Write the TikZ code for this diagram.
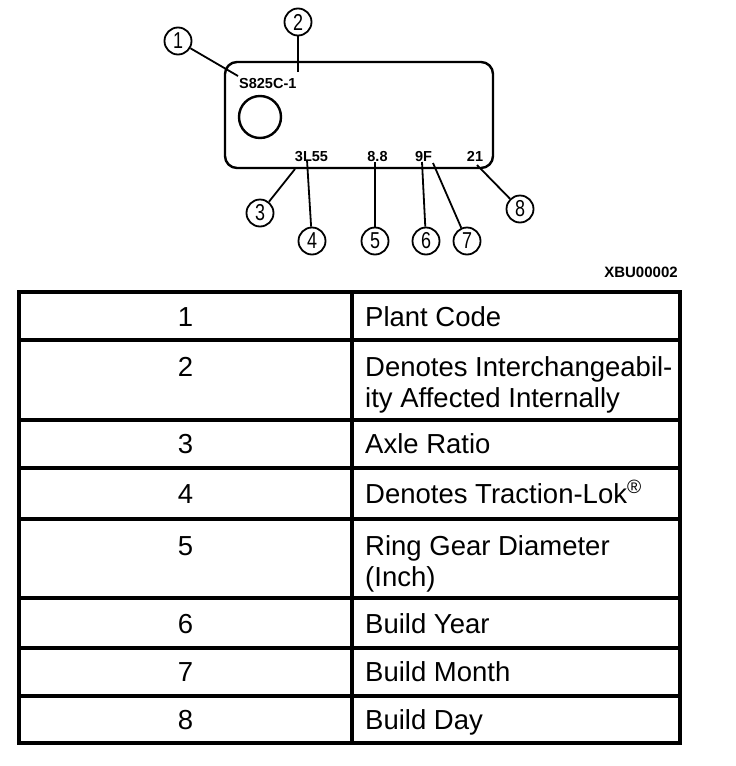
\documentclass[tikz,border=0pt]{standalone}
\usepackage{fontspec}
\setmainfont{Liberation Sans}
\newfontfamily\narrowsans[FakeStretch=0.78]{Liberation Sans}
\begin{document}
\begin{tikzpicture}[x=1pt,y=-1pt,
  plate/.style={draw=black,line width=2.4pt},
  platetext/.style={inner sep=0pt,font=\fontsize{14.5}{16}\selectfont\bfseries},
  callout/.style={circle,draw=black,line width=1.8pt,minimum size=27pt,inner sep=0pt,font=\narrowsans\fontsize{23}{24}\selectfont},
  leader/.style={draw=black,line width=1.8pt},
  tbl/.style={draw=black,line width=3.6pt},
  numtext/.style={inner sep=0pt,anchor=base,font=\fontsize{27.5}{31}\selectfont},
  desctext/.style={inner sep=0pt,anchor=base west,font=\fontsize{27.5}{31}\selectfont},
  desctwo/.style={inner sep=0pt,anchor=north west,align=left,font=\fontsize{27.5}{31}\selectfont}]
\useasboundingbox (0,0) rectangle (736,766);

% plate
\draw[plate,rounded corners=12pt] (225,62) rectangle (493,168);
\draw[plate] (260,117) circle (21pt);
\node[platetext,anchor=base west] (s1) at (239,88) {S825C-1};
\node[platetext,anchor=base] (s3) at (311.5,161) {3L55};
\node[platetext,anchor=base] (s5) at (377.5,161) {8.8};
\node[platetext,anchor=base] (s6) at (423.5,161) {9F};
\node[platetext,anchor=base] (s8) at (475,161) {21};

% callouts
\node[callout] (c1) at (178,41) {1};
\node[callout] (c2) at (298,22) {2};
\node[callout] (c3) at (260,213) {3};
\node[callout] (c4) at (312,241) {4};
\node[callout] (c5) at (375,241) {5};
\node[callout] (c6) at (426,241) {6};
\node[callout] (c7) at (467,241) {7};
\node[callout] (c8) at (520,209) {8};

\coordinate (p1) at (238,76);
\coordinate (p2) at (298,72);
\coordinate (p3) at (295,169);
\coordinate (p4) at (307,160);
\coordinate (p5) at (375,162);
\coordinate (p6) at (422,162);
\coordinate (p7) at (433,163);
\coordinate (p8) at (477,165);

\draw[leader] (p1) -- (c1);
\draw[leader] (p2) -- (c2);
\draw[leader] (p3) -- (c3);
\draw[leader] (p4) -- (c4);
\draw[leader] (p5) -- (c5);
\draw[leader] (p6) -- (c6);
\draw[leader] (p7) -- (c7);
\draw[leader] (p8) -- (c8);

\node[inner sep=0pt,font=\fontsize{15}{16}\selectfont\bfseries] (xbu) at (641,272) {XBU00002};

% table
\draw[tbl] (19,292) rectangle (680,743);
\draw[tbl] (352,292) -- (352,743);
\foreach \yy in {340,420,468,519,598,648,696}
  \draw[tbl] (19,\yy) -- (680,\yy);

\node[numtext] (n1) at (185.5,326) {1};
\node[numtext] (n2) at (185.5,376) {2};
\node[numtext] (n3) at (185.5,453) {3};
\node[numtext] (n4) at (185.5,503) {4};
\node[numtext] (n5) at (185.5,555) {5};
\node[numtext] (n6) at (185.5,633) {6};
\node[numtext] (n7) at (185.5,681) {7};
\node[numtext] (n8) at (185.5,729) {8};

\node[desctext] (d1) at (365,326) {Plant Code};
\node[desctwo] (d2) at (365,356) {Denotes Interchangeabil-\\ity Affected Internally};
\node[desctext] (d3) at (365,453) {Axle Ratio};
\node[desctext] (d4) at (365,503) {Denotes Traction-Lok\textsuperscript{\textregistered}};
\node[desctwo] (d5) at (365,535) {Ring Gear Diameter\\(Inch)};
\node[desctext] (d6) at (365,633) {Build Year};
\node[desctext] (d7) at (365,681) {Build Month};
\node[desctext] (d8) at (365,729) {Build Day};
\end{tikzpicture}
\end{document}
